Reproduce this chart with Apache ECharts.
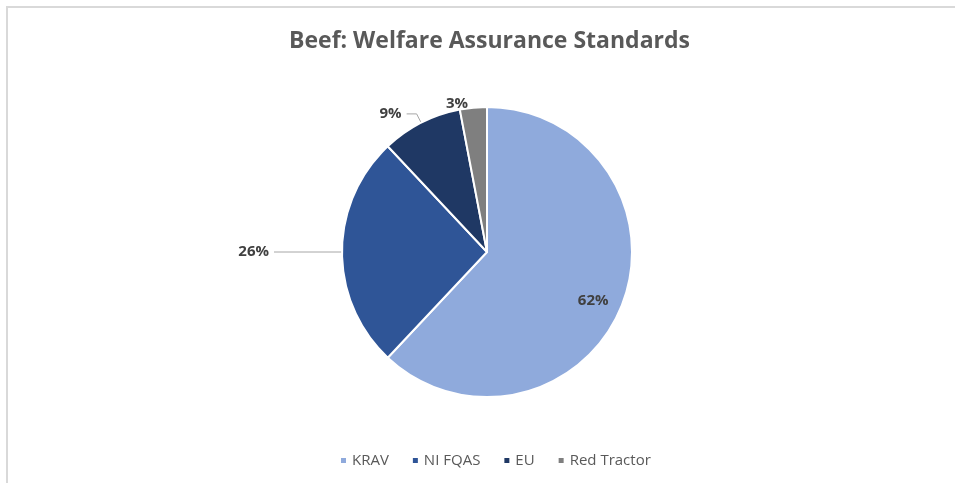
<!DOCTYPE html>
<html>
<head>
<meta charset="utf-8">
<script src="https://cdn.jsdelivr.net/npm/echarts@6/dist/echarts.min.js"></script>
<style>
  html, body { margin: 0; padding: 0; background: #fff; }
  #chart { width: 955px; height: 483px; }
</style>
</head>
<body>
<div id="chart"></div>
<script>
const categories = ['KRAV', 'NI FQAS', 'EU', 'Red Tractor'];
const shares = [62, 26, 9, 3];
const colors = ['#8faadc', '#2f5597', '#1f3864', '#7f7f7f'];

// per-slice label tweaks so the labels sit roughly where the original put them
const labelTweaks = [
    { label: { position: 'inside', offset: [36, 21] } },
    { labelLine: { length: 22, length2: 46 } },
    { labelLine: { length: 10, length2: 10 } },
    { labelLine: { show: false, length: 4, length2: 0 } },
];

const chart = echarts.init(document.getElementById('chart'));

chart.setOption({
    animation: false,
    graphic: [{
        type: 'rect',
        shape: { x: 7, y: 7, width: 960, height: 490 },
        style: { fill: 'none', stroke: '#d9d9d9', lineWidth: 2 },
        silent: true,
    }],
    title: {
        text: 'Beef: Welfare Assurance Standards',
        left: 284,
        top: 25,
        textStyle: { fontFamily: 'Open Sans', fontSize: 23, fontWeight: 'bold', color: '#595959' },
    },
    legend: {
        bottom: 10,
        left: 334,
        icon: 'rect',
        itemWidth: 7,
        itemHeight: 7,
        itemGap: 22,
        textStyle: { fontFamily: 'Open Sans', fontSize: 15, color: '#595959' },
        data: categories,
    },
    series: [{
        type: 'pie',
        center: [487, 252],
        radius: 145,
        startAngle: 90,
        clockwise: true,
        avoidLabelOverlap: false,
        itemStyle: { borderColor: '#fff', borderWidth: 2 },
        label: {
            show: true,
            formatter: '{c}%',
            fontFamily: 'Open Sans',
            fontSize: 15,
            fontWeight: 'bold',
            color: '#404040',
        },
        labelLine: { lineStyle: { color: '#a6a6a6', width: 1 } },
        emphasis: { disabled: true },
        data: categories.map((name, i) => ({
            name,
            value: shares[i],
            itemStyle: { color: colors[i] },
            ...labelTweaks[i],
        })),
    }],
});
</script>
</body>
</html>
